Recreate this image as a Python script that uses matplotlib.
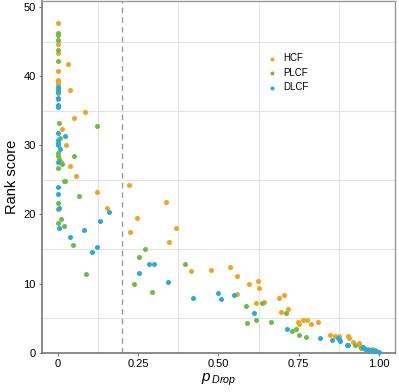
import matplotlib
matplotlib.use("Agg")
import matplotlib.pyplot as plt
from matplotlib.ticker import FixedLocator

plt.rcParams['font.family'] = ['Liberation Sans', 'DejaVu Sans']
plt.rcParams['mathtext.fontset'] = 'custom'
plt.rcParams['mathtext.it'] = 'Liberation Sans:italic'
plt.rcParams['mathtext.rm'] = 'Liberation Sans'

# HCF (orange)
hcf_x = [0, 0, 0, 0, 0, 0, 0,
         0.031, 0.036, 0.083, 0.049, 0.012, 0.026, 0.010, 0.036, 0.057, 0.122,
         0.220, 0.154, 0.337, 0.247, 0.226, 0.367, 0.347, 0.414, 0.476, 0.537,
         0.558, 0.623, 0.595, 0.626, 0.559, 0.703, 0.689, 0.617, 0.643, 0.717,
         0.694, 0.748, 0.751, 0.763, 0.777, 0.788, 0.809, 0.846, 0.864, 0.875,
         0.904, 0.906, 0.919, 0.938, 0.941, 0.966, 0.978, 0.988]
hcf_y = [47.7, 44.7, 43.4, 40.7, 39.5, 39.2, 38.9,
         41.8, 37.95, 34.8, 33.9, 32.4, 30.0, 27.6, 27.0, 25.6, 23.3,
         24.2, 20.9, 21.8, 19.5, 17.5, 18.1, 16.0, 11.9, 12.0, 12.4,
         11.1, 10.4, 9.96, 9.4, 8.5, 8.3, 7.9, 7.2, 7.3, 6.4,
         5.9, 4.45, 4.2, 4.7, 4.8, 4.1, 4.4, 2.6, 2.5, 2.4,
         2.45, 2.2, 1.5, 1.4, 1.0, 0.5, 0.5, 0.4]

# PLCF (green)
plcf_x = [0, 0, 0, 0, 0, 0, 0, 0, 0.002, 0.006, 0, 0, 0.004, 0, 0, 0, 0,
          0.123, 0.049, 0.014, 0.018, 0.023, 0.065, 0.010, 0.020, 0.047, 0.088,
          0.270, 0.253, 0.397, 0.237, 0.293, 0.635, 0.586, 0.709, 0.589, 0.616,
          0.663, 0.729, 0.743, 0.752, 0.772, 0.925, 0.945, 0.980]
plcf_y = [46.2, 46.0, 45.2, 43.8, 42.2, 38.2, 37.5, 36.7, 33.2, 31.1, 28.9, 28.4, 28.0, 26.65, 21.6, 20.8, 18.8,
          32.8, 28.4, 27.3, 24.8, 24.8, 22.7, 19.4, 18.4, 15.6, 11.4,
          15.0, 13.8, 12.8, 9.9, 8.85, 7.2, 6.8, 5.8, 4.3, 4.7,
          4.4, 3.1, 3.4, 2.55, 2.3, 1.2, 0.7, 0.35]

# DLCF (blue)
dlcf_x = [0, 0, 0, 0, 0, 0, 0, 0, 0, 0, 0, 0, 0.002, 0.002,
          0.022, 0.006, 0.160, 0.131, 0.080, 0.036, 0.121, 0.107, 0.284, 0.299,
          0.252, 0.343, 0.422, 0.499, 0.509, 0.547, 0.611, 0.715, 0.815, 0.853,
          0.872, 0.877, 0.880, 0.900, 0.905, 0.949, 0.958, 0.966, 0.972, 0.984,
          0.992, 1.0]
dlcf_y = [38.5, 37.8, 36.9, 35.9, 35.6, 31.8, 30.8, 30.4, 30.1, 27.6, 24.0, 22.9, 21.0, 18.0,
          31.4, 29.5, 20.3, 19.0, 17.8, 16.8, 15.25, 14.6, 12.8, 12.8,
          11.5, 10.3, 7.9, 8.66, 7.75, 8.3, 5.8, 3.4, 2.2, 1.9,
          2.2, 2.0, 1.7, 1.2, 1.2, 0.87, 0.6, 0.4, 0.35, 0.2,
          0.2, 0.05]

xticks = [0, 0.25, 0.5, 0.75, 1.0]
xticklabels = ["0", "0.25", "0.50", "0.75", "1.00"]
yticks = [0, 10, 20, 30, 40, 50]

orange = "#f7a21b"
green = "#6abd45"
blue = "#27aae1"

fig = plt.figure(figsize=(3.99, 3.92), dpi=100)
ax = fig.add_axes([0.105, 0.100, 0.885, 0.898])

ax.scatter(hcf_x, hcf_y, s=13, color=orange, linewidths=0, label="HCF", zorder=3, clip_on=False)
ax.scatter(plcf_x, plcf_y, s=13, color=green, linewidths=0, label="PLCF", zorder=3, clip_on=False)
ax.scatter(dlcf_x, dlcf_y, s=13, color=blue, linewidths=0, label="DLCF", zorder=3, clip_on=False)

ax.axvline(0.2, color="#999999", lw=1.0, ls=(0, (4, 3)), zorder=2)

ax.set_xlim(-0.05, 1.05)
ax.set_ylim(0, 50.9)
ax.set_xticks(xticks)
ax.set_xticklabels(xticklabels)
ax.set_yticks(yticks)
ax.xaxis.set_minor_locator(FixedLocator([0.125, 0.375, 0.625, 0.875]))
ax.yaxis.set_minor_locator(FixedLocator([5, 15, 25, 35, 45]))
ax.grid(which="minor", color="#e3e3e3", lw=0.8)
ax.grid(which="major", visible=False)
ax.set_axisbelow(True)
ax.tick_params(which="minor", length=0)
ax.tick_params(which="major", labelsize=8, length=2.5, width=0.8, color="#777777", pad=2)

for side in ["left", "bottom"]:
    ax.spines[side].set_color("#777777")
    ax.spines[side].set_linewidth(1.2)
for side in ["top", "right"]:
    ax.spines[side].set_color("#999999")
    ax.spines[side].set_linewidth(1.0)

ax.set_ylabel("Rank score", fontsize=10.5, labelpad=3)
ax.set_xlabel(r"$p_{\,Drop}$", fontsize=11, labelpad=2)

ax.legend(loc="upper left", bbox_to_anchor=(0.605, 0.87), frameon=False, fontsize=7,
          markerscale=0.8, handletextpad=0.2, labelspacing=0.45, borderpad=0.2)

fig.savefig("out.png", dpi=100)
